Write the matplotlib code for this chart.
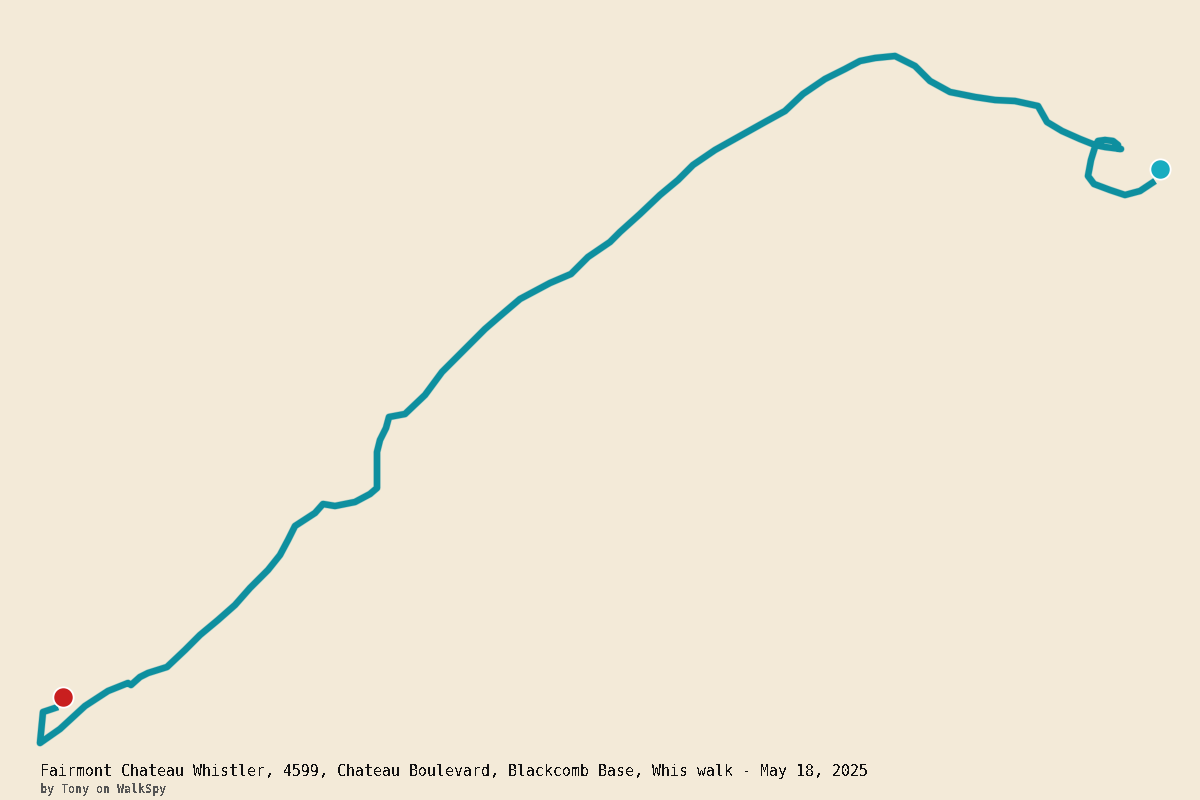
import matplotlib
matplotlib.use("Agg")
import matplotlib.pyplot as plt

plt.rcParams['font.family'] = ['DejaVu Sans Mono', 'Liberation Mono']
plt.rcParams['text.antialiased'] = False

title = "Fairmont Chateau Whistler, 4599, Chateau Boulevard, Blackcomb Base, Whis walk - May 18, 2025"
byline = "by Tony on WalkSpy"

route_x = [1155, 1140, 1125, 1110, 1094, 1088, 1091, 1095, 1098, 1105, 1113, 1118, 1117, 1121, 1105, 1095,
           1080, 1062, 1047, 1038, 1015, 995, 975, 950, 930, 915, 895, 875, 860, 845, 825, 803,
           785, 765, 740, 715, 693, 678, 660, 640, 620, 610, 588, 571, 550, 520, 500, 485, 460,
           442, 425, 405, 389, 386, 380, 377, 377, 377, 370, 355, 335, 323, 315, 295, 288, 280,
           268, 250, 235, 218, 200, 185, 167, 148, 140, 131, 128, 108, 85, 60, 40, 43, 58]
route_y = [181, 191, 195, 190, 184, 176, 160, 147, 141, 140, 141, 145, 148, 149, 147, 145,
           139, 131, 122, 106, 101, 100, 97, 92, 81, 66, 56, 58, 61, 69, 79, 94,
           111, 122, 136, 150, 165, 180, 195, 214, 232, 242, 257, 274, 283, 299, 316, 329, 354,
           372, 395, 414, 417, 428, 440, 452, 470, 488, 494, 502, 506, 504, 513, 526, 540, 555,
           570, 588, 605, 620, 635, 650, 667, 673, 677, 685, 683, 691, 706, 729, 743, 712, 707]
start_point = (1160, 169)
end_point = (63, 697)

fig = plt.figure(figsize=(12, 8), dpi=100, facecolor='#f3ead8')
ax = fig.add_axes([0, 0, 1, 1])
ax.set_xlim(0, 1200)
ax.set_ylim(800, 0)
ax.axis('off')

ax.plot(route_x, route_y, color='#0e8f9f', lw=5.4, alpha=0.3,
        solid_joinstyle='round', solid_capstyle='butt', zorder=2)
ax.plot(route_x, route_y, color='#0e8f9f', lw=4.6,
        solid_joinstyle='round', solid_capstyle='butt', zorder=3)

for (px, py), colour in [(start_point, '#18acc0'), (end_point, '#c91f1f')]:
    ax.plot([px], [py], 'o', ms=14.6, mfc=colour, mec='white', mew=1.3, zorder=4)

ax.text(39.5, 771.5, title, fontsize=10.75, color='#111111', va='center', ha='left')
ax.text(39.5, 789, byline, fontsize=8.4, color='#555555', fontweight='bold', va='center', ha='left')

fig.savefig('out.png', dpi=100, facecolor=fig.get_facecolor())
